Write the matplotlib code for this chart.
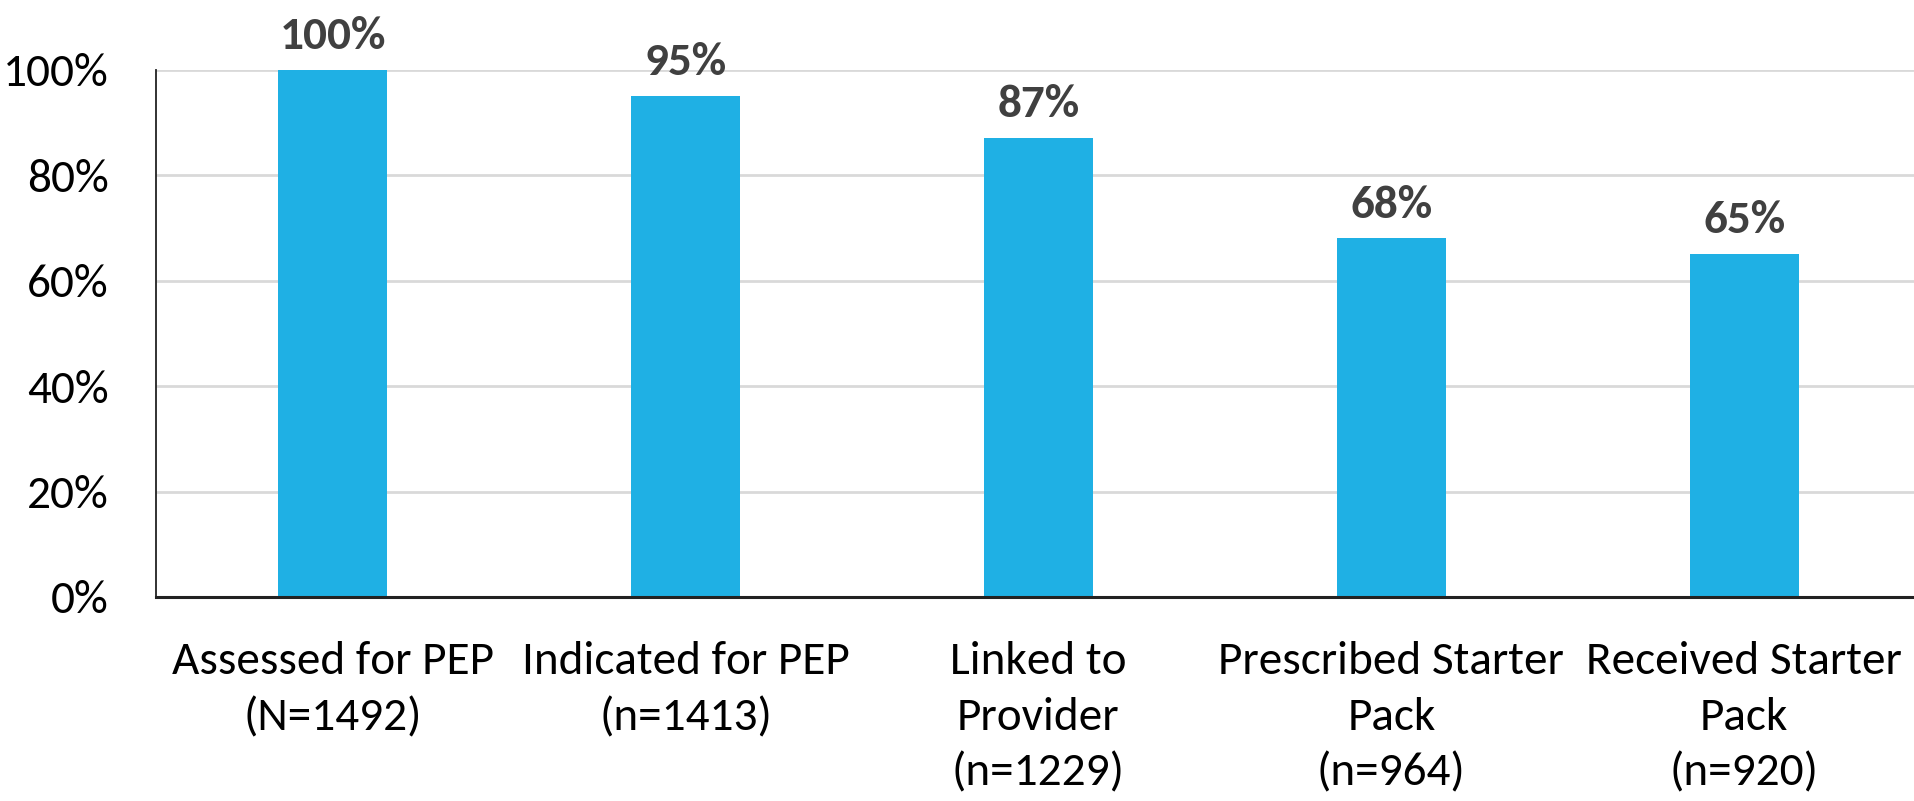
import matplotlib
matplotlib.use("Agg")
import matplotlib.pyplot as plt
from matplotlib.ticker import FuncFormatter

# PEP cascade: share of assessed clients reaching each step
categories = [
    "Assessed for PEP\n(N=1492)",
    "Indicated for PEP\n(n=1413)",
    "Linked to\nProvider\n(n=1229)",
    "Prescribed Starter\nPack\n(n=964)",
    "Received Starter\nPack\n(n=920)",
]
percents = [100, 95, 87, 68, 65]
y_ticks = [0, 20, 40, 60, 80, 100]

BAR_COLOR = "#1fb0e4"
LABEL_COLOR = "#404040"

plt.rcParams["font.family"] = ["Carlito", "Liberation Sans Narrow", "Open Sans", "DejaVu Sans"]

fig = plt.figure(figsize=(19.15, 8.01), dpi=100)
ax = fig.add_axes([0.0815, 0.2547, 1.003 - 0.0815, 0.913 - 0.2547])

x = range(len(categories))
bars = ax.bar(x, percents, width=0.31, color=BAR_COLOR, zorder=2)

# value labels above each bar
for rect, val in zip(bars, percents):
    ax.annotate(f"{val}%", (rect.get_x() + rect.get_width() / 2, val),
                xytext=(0, 10), textcoords="offset points",
                ha="center", va="bottom", fontsize=34, fontweight="bold",
                color=LABEL_COLOR)

ax.set_xlim(-0.5, len(categories) - 0.5)
ax.set_ylim(0, 100)
ax.set_yticks(y_ticks)
ax.yaxis.set_major_formatter(FuncFormatter(lambda v, _: f"{v:.0f}%"))
ax.set_xticks(list(x))
ax.set_xticklabels(categories, fontsize=34, linespacing=1.43)

ax.tick_params(axis="y", length=0, pad=34, labelsize=34)
ax.tick_params(axis="x", length=0, pad=32)

ax.grid(axis="y", color="#d9d9d9", linewidth=2, zorder=0)
ax.set_axisbelow(True)

for side in ("top", "right"):
    ax.spines[side].set_visible(False)
ax.spines["left"].set_linewidth(1.3)
ax.spines["bottom"].set_linewidth(2.2)
ax.spines["left"].set_color("#222222")
ax.spines["bottom"].set_color("#222222")

fig.savefig("out.png", dpi=100, facecolor="white")
